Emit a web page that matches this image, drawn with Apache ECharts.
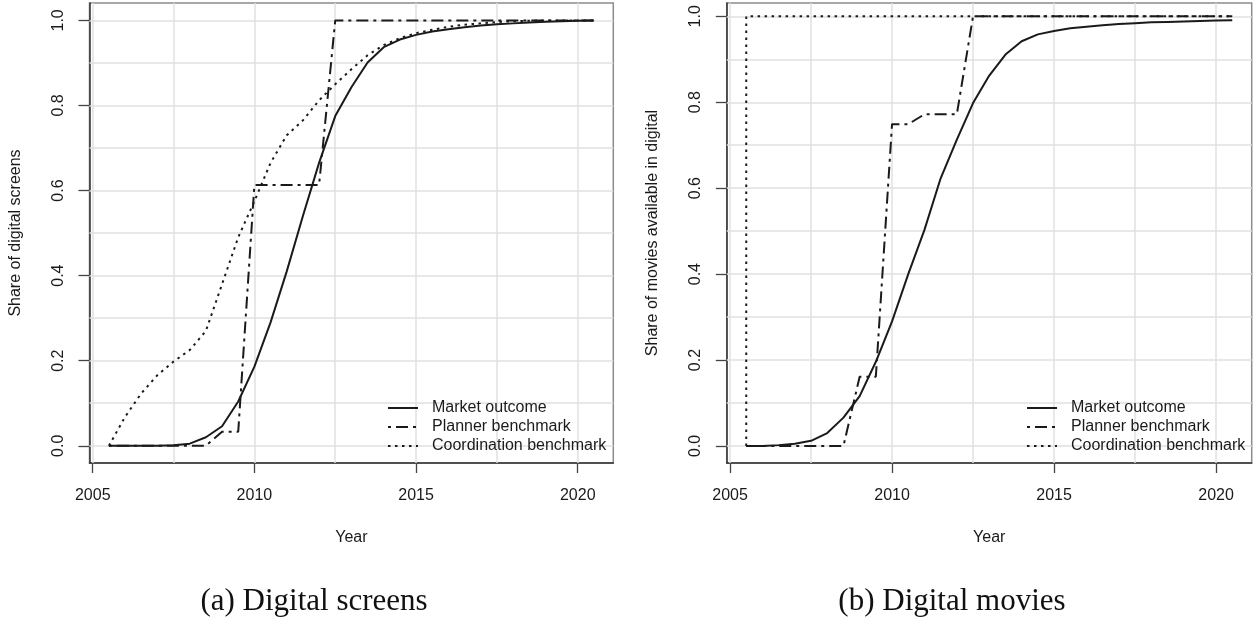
<!DOCTYPE html>
<html>
<head>
<meta charset="utf-8">
<script src="https://cdn.jsdelivr.net/npm/echarts@6/dist/echarts.min.js"></script>
<style>
  html, body { margin: 0; padding: 0; background: #fff; }
  #chart { width: 1260px; height: 624px; }
</style>
</head>
<body>
<div id="chart"></div>
<script>
// Half-year time points shared by the series
const years = [2005.5, 2006, 2006.5, 2007, 2007.5, 2008, 2008.5, 2009, 2009.5, 2010,
  2010.5, 2011, 2011.5, 2012, 2012.5, 2013, 2013.5, 2014, 2014.5, 2015,
  2015.5, 2016, 2016.5, 2017, 2017.5, 2018, 2018.5, 2019, 2019.5, 2020, 2020.5];

// (a) Digital screens
const screensMarket = [0, 0, 0, 0, 0.001, 0.005, 0.02, 0.046, 0.104, 0.186,
  0.29, 0.41, 0.54, 0.665, 0.775, 0.843, 0.901, 0.937, 0.955, 0.966,
  0.974, 0.979, 0.984, 0.988, 0.991, 0.993, 0.995, 0.997, 0.998, 0.999, 1];
const screensPlanner = [0, 0, 0, 0, 0, 0, 0, 0.033, 0.033, 0.613,
  0.613, 0.613, 0.613, 0.613, 1, 1, 1, 1, 1, 1,
  1, 1, 1, 1, 1, 1, 1, 1, 1, 1, 1];
const screensCoord = [0, 0.068, 0.123, 0.166, 0.198, 0.225, 0.27, 0.38, 0.49, 0.575,
  0.665, 0.73, 0.765, 0.812, 0.85, 0.885, 0.918, 0.942, 0.958, 0.97,
  0.978, 0.985, 0.99, 0.993, 0.996, 0.998, 0.999, 1, 1, 1, 1];

// (b) Digital movies
const moviesMarket = [0, 0, 0.002, 0.005, 0.012, 0.03, 0.066, 0.116, 0.196, 0.29,
  0.40, 0.503, 0.623, 0.713, 0.798, 0.862, 0.911, 0.942, 0.958, 0.966,
  0.972, 0.976, 0.979, 0.982, 0.984, 0.986, 0.987, 0.988, 0.989, 0.99, 0.991];
const moviesPlanner = [0, 0, 0, 0, 0, 0, 0, 0.161, 0.161, 0.749,
  0.749, 0.772, 0.772, 0.772, 1, 1, 1, 1, 1, 1,
  1, 1, 1, 1, 1, 1, 1, 1, 1, 1, 1];
// the coordination path jumps straight to 1 at the first date
const moviesCoordYears = [2005.5, 2005.5, 2006, 2006.5, 2007, 2007.5, 2008, 2008.5, 2009, 2009.5, 2010,
  2010.5, 2011, 2011.5, 2012, 2012.5, 2013, 2013.5, 2014, 2014.5, 2015,
  2015.5, 2016, 2016.5, 2017, 2017.5, 2018, 2018.5, 2019, 2019.5, 2020, 2020.5];
const moviesCoord = [0, 1, 1, 1, 1, 1, 1, 1, 1, 1, 1,
  1, 1, 1, 1, 1, 1, 1, 1, 1, 1,
  1, 1, 1, 1, 1, 1, 1, 1, 1, 1, 1];

// Axis ticks and grid positions
const xTicks = [2005, 2010, 2015, 2020];
const yTicks = [0, 0.2, 0.4, 0.6, 0.8, 1.0];
const xGrid = [2005, 2007.5, 2010, 2012.5, 2015, 2017.5, 2020];
const yGrid = [0, 0.1, 0.2, 0.3, 0.4, 0.5, 0.6, 0.7, 0.8, 0.9, 1.0];

const seriesNames = ['Market outcome', 'Planner benchmark', 'Coordination benchmark'];
const yTitles = ['Share of digital screens', 'Share of movies available in digital'];
const captions = ['(a) Digital screens', '(b) Digital movies'];

const SANS = '"Liberation Sans", Arial, Helvetica, sans-serif';
const SERIF = '"Liberation Serif", "Times New Roman", serif';
const INK = '#1a1a1a';

const panels = [
  { left: 89.5, width: 523.8, ymin: -0.0405, ymax: 1.0409, legendLeft: 387, capX: 314 },
  { left: 726.8, width: 524.9, ymin: -0.0396, ymax: 1.031, legendLeft: 1026, capX: 952 }
];

const pairs = (xs, vs) => vs.map((v, i) => [xs[i], v]);

const lineStyles = [
  { color: INK, width: 2, type: 'solid' },
  { color: INK, width: 2, type: [3, 5, 12, 5] },
  { color: INK, width: 2, type: [2.5, 4.5] }
];

const panelData = [
  [pairs(years, screensMarket), pairs(years, screensPlanner), pairs(years, screensCoord)],
  [pairs(years, moviesMarket), pairs(years, moviesPlanner), pairs(moviesCoordYears, moviesCoord)]
];

const grid = [], xAxis = [], yAxis = [], series = [], legend = [], graphic = [];

panels.forEach((p, k) => {
  grid.push({
    left: p.left, top: 3, width: p.width, height: 460,
    show: true, borderColor: '#8c8c8c', borderWidth: 1.5, backgroundColor: 'transparent'
  });
  xAxis.push({
    type: 'value', gridIndex: k, min: 2004.9, max: 2021.1,
    axisLine: { show: true, onZero: false, lineStyle: { color: '#333', width: 1.5 } },
    axisTick: { show: true, inside: false, length: 10, customValues: xTicks, lineStyle: { color: '#444', width: 1.3 } },
    axisLabel: { customValues: xTicks, margin: 25, fontSize: 16, fontFamily: SANS, color: INK,
      formatter: v => String(v) },
    splitLine: { show: false },
    name: 'Year', nameLocation: 'middle', nameGap: 67,
    nameTextStyle: { fontSize: 16, fontFamily: SANS, color: INK }
  });
  yAxis.push({
    type: 'value', gridIndex: k, min: p.ymin, max: p.ymax,
    axisLine: { show: true, onZero: false, lineStyle: { color: '#333', width: 1.5 } },
    axisTick: { show: true, inside: false, length: 11, customValues: yTicks, lineStyle: { color: '#444', width: 1.3 } },
    axisLabel: { customValues: yTicks, margin: 23, rotate: 90, fontSize: 16, fontFamily: SANS, color: INK,
      formatter: v => v.toFixed(1) },
    splitLine: { show: false },
    name: yTitles[k], nameLocation: 'middle', nameRotate: 90, nameGap: 66,
    nameTextStyle: { fontSize: 16, fontFamily: SANS, color: INK }
  });

  // light reference grid drawn behind the curves and legend
  series.push({
    type: 'line', xAxisIndex: k, yAxisIndex: k, z: 1, silent: true,
    data: [[years[0], 0]], symbol: 'none', lineStyle: { opacity: 0 },
    markLine: {
      z: 1, silent: true, symbol: ['none', 'none'], label: { show: false },
      lineStyle: { color: '#e1e1e1', width: 1.5, type: 'solid' },
      emphasis: { disabled: true },
      data: xGrid.map(x => ({ xAxis: x })).concat(yGrid.map(y => ({ yAxis: y })))
    }
  });

  seriesNames.forEach((name, j) => {
    series.push({
      name, type: 'line', xAxisIndex: k, yAxisIndex: k, z: 3 + j,
      data: panelData[k][j], symbol: 'none', showSymbol: false,
      lineStyle: lineStyles[j], itemStyle: { color: INK },
      emphasis: { disabled: true }
    });
  });

  // legend keys show only the line pattern
  legend.push({
    data: seriesNames, orient: 'vertical', left: p.legendLeft, top: 400, padding: 0, z: 8,
    itemWidth: 30, itemHeight: 14, itemGap: 3, selectedMode: false,
    itemStyle: { opacity: 0 },
    textStyle: { fontSize: 16, fontFamily: SANS, color: INK, padding: [0, 0, 0, 9] }
  });

  graphic.push({
    type: 'text', x: p.capX, y: 602,
    style: { text: captions[k], font: '31px ' + SERIF, fill: '#111', textAlign: 'center', textVerticalAlign: 'middle' }
  });
});

const chart = echarts.init(document.getElementById('chart'), null, { renderer: 'canvas' });
chart.setOption({
  animation: false,
  backgroundColor: '#fff',
  grid, xAxis, yAxis, series, legend, graphic
});
</script>
</body>
</html>
